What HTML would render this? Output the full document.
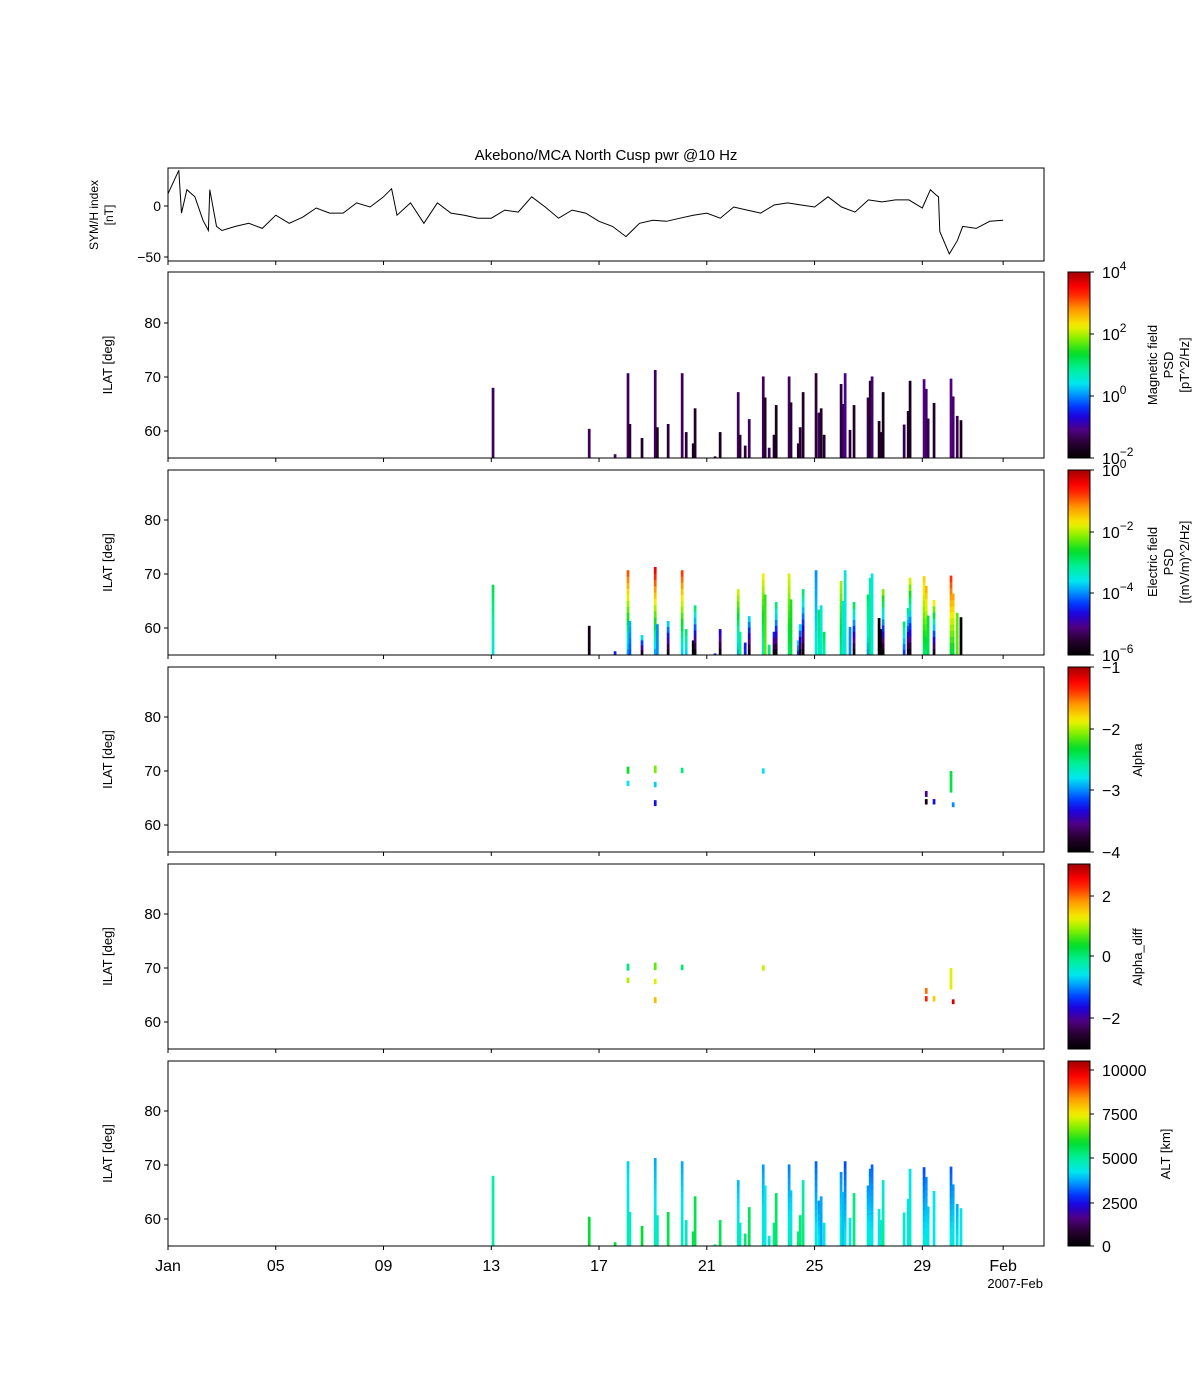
<!DOCTYPE html>
<html><head><meta charset="utf-8"><style>
body{margin:0;background:#fff;}
svg{display:block;font-family:"Liberation Sans","DejaVu Sans",sans-serif;}
</style></head><body>
<svg id="chart" width="1200" height="1400" viewBox="0 0 1200 1400" xmlns="http://www.w3.org/2000/svg">
<rect width="1200" height="1400" fill="#fff"/>
<text x="606" y="160" font-size="15" text-anchor="middle">Akebono/MCA North Cusp pwr @10 Hz</text>
<g id="layer"></g>
</svg>
<script>
// ---- data ----
const xTickLabels = ["Jan","05","09","13","17","21","25","29","Feb"];
const xTickDays = [1,5,9,13,17,21,25,29,32];
const symDays = [1,1.4,1.5,1.7,2,2.3,2.5,2.55,2.8,3,3.5,4,4.5,5,5.5,6,6.5,7,7.5,8,8.5,9,9.3,9.5,10,10.5,11,11.5,12,12.5,13,13.5,14,14.5,15,15.5,16,16.5,17,17.5,18,18.5,19,19.5,20,20.5,21,21.5,22,22.5,23,23.5,24,24.5,25,25.5,26,26.5,27,27.5,28,28.5,29,29.3,29.5,29.6,29.65,30,30.3,30.5,31,31.5,32];
const symVals = [12,35,-7,16,9,-14,-24,16,-20,-24,-20,-17,-22,-9,-17,-11,-2,-7,-7,3,-1,9,17,-9,3,-17,3,-7,-9,-12,-12,-4,-6,9,-1,-12,-4,-7,-15,-20,-30,-17,-14,-15,-12,-9,-7,-12,-1,-4,-7,1,3,1,-1,9,-1,-6,6,4,6,6,-2,16,11,9,-25,-47,-34,-20,-22,-15,-14];
const passDay = [13.06,16.63,17.59,18.07,18.14,18.59,19.08,19.16,19.56,20.08,20.23,20.49,20.56,21.30,21.49,22.16,22.23,22.42,22.57,23.09,23.16,23.31,23.49,23.57,24.05,24.12,24.39,24.46,24.57,25.05,25.16,25.24,25.35,25.98,26.05,26.13,26.31,26.46,26.98,27.06,27.13,27.39,27.47,27.54,28.32,28.47,28.54,29.06,29.14,29.21,29.43,30.06,30.14,30.29,30.43];
const passTop = [68,60.4,55.7,70.7,61.3,58.7,71.3,60.7,61.3,70.7,59.8,57.7,64.2,55.3,59.8,67.2,59.3,57.3,62.2,70.1,66.2,56.9,59.3,64.8,70.1,65.3,57.7,60.7,67.2,70.7,63.4,64.2,59.3,68.7,65.0,70.7,60.2,64.8,66.2,69.3,70.1,61.85,59.8,67.2,61.2,63.7,69.3,69.6,67.8,62.3,65.2,69.7,66.4,62.8,62.0];
const magVal = [-1.3,-1.3,-1.2,-1.3,-1.5,-1.6,-1.3,-1.6,-1.5,-1.3,-1.5,-1.7,-1.6,-1.6,-1.7,-1.3,-1.5,-1.5,-1.3,-1.3,-1.6,-1.3,-1.6,-1.7,-1.3,-1.5,-1.6,-1.5,-1.6,-1.5,-1.3,-1.6,-1.6,-1.5,-1.3,-1.0,-1.5,-1.6,-1.4,-1.6,-1.2,-1.7,-1.6,-1.7,-1.4,-1.6,-1.7,-1.1,-1.2,-1.4,-1.6,-1.1,-1.2,-1.4,-1.7];
const eBot = [-3.5,-5.8,-4.5,-4,-4.3,-6,-4,-4,-6,-3.8,-3.8,-6,-6,-4.5,-6,-4,-3,-4.5,-6,-3.5,-2.3,-3,-6,-6,-3,-2.8,-4.5,-6,-6,-3.5,-3.2,-3.5,-3.2,-3,-3.5,-3.5,-4,-6,-4,-2.8,-3.5,-6,-6,-6,-4.5,-6,-6,-3,-3,-2.8,-6,-2.8,-2.8,-2.3,-6];
const eTop = [-2.8,-5.8,-4.5,-0.8,-3.8,-3.3,-0.3,-4,-3.5,-0.7,-2.9,-6,-2.8,-4.5,-4.5,-1.8,-3.2,-4.5,-3.5,-1.7,-2.5,-3,-4.3,-2.8,-1.8,-2.5,-3.5,-3.4,-2.8,-4,-2.8,-3.5,-2.8,-2,-3.5,-3.5,-4,-2.7,-2.8,-3.3,-3.5,-6,-6,-2,-2.8,-2.8,-1.7,-1.5,-1.3,-2.8,-1.5,-0.7,-1.2,-2.3,-6];
const altBot = [5000,5800,5800,4800,4700,5800,4800,4600,5600,4800,4600,5600,5600,5400,5500,4800,4600,5300,5500,4600,4300,4500,5200,5400,4600,4700,5200,5300,5300,4500,4400,3700,4400,4600,3900,4400,4300,5200,4600,4500,4400,4300,4500,5200,4500,4400,4600,4400,4500,4400,4200,4400,4500,4300,4300];
const altTop = [4900,5800,5800,4000,4700,5800,3700,4600,5600,3700,4600,5600,5600,5400,5500,3800,4600,5300,5500,3600,4300,4500,5200,5400,3400,3900,5200,5300,4800,3200,3500,3700,4400,3500,3900,3000,4300,5200,3500,3300,3200,4300,4500,4400,4500,4400,4200,3000,3400,3900,4200,3100,3500,3700,4300];
const markDay = [18.07,18.07,19.08,19.08,19.08,20.08,23.09,29.14,29.14,29.43,30.06,30.14];
const markLo = [69.5,67.2,69.6,67.0,63.5,69.6,69.5,65.2,63.8,63.8,66.0,63.3];
const markHi = [70.8,68.2,71.0,68.0,64.6,70.6,70.5,66.3,64.8,64.8,70.0,64.2];
const alphaVal = [-2.3,-2.8,-2.1,-2.85,-3.3,-2.5,-2.8,-3.5,-3.9,-3.3,-2.4,-3.0];
const alphaDiff = [0,1,0.7,1.2,1.6,0,1.1,2,2.4,1.5,1.2,2.8];

// ---- layout ----
const X0=168, PXD=26.94, XR=1044;
const xs = d => X0 + (d-1)*PXD;
const NS="http://www.w3.org/2000/svg";
const layer=document.getElementById('layer');
function mk(tag, attrs, parent){const e=document.createElementNS(NS,tag);for(const k in attrs)e.setAttribute(k,attrs[k]);(parent||layer).appendChild(e);return e;}

const stops=[[0,[0,0,0]],[0.08,[40,0,50]],[0.15,[80,0,130]],[0.22,[30,0,220]],[0.28,[0,60,255]],[0.34,[0,150,255]],[0.40,[0,230,240]],[0.48,[0,240,150]],[0.56,[0,220,40]],[0.64,[130,240,0]],[0.71,[245,240,0]],[0.8,[255,150,0]],[0.87,[255,50,0]],[0.92,[255,0,0]],[1,[160,0,0]]];
function cmap(t){t=Math.max(0,Math.min(1,t));for(let i=1;i<stops.length;i++){if(t<=stops[i][0]){const a=stops[i-1],b=stops[i],f=(t-a[0])/(b[0]-a[0]);const c=a[1].map((v,j)=>Math.round(v+(b[1][j]-v)*f));return `rgb(${c[0]},${c[1]},${c[2]})`;}}return 'rgb(160,0,0)';}

const panels=[
 {top:272,bot:458,name:'magnetic-psd'},
 {top:470,bot:655,name:'electric-psd'},
 {top:667,bot:852,name:'alpha'},
 {top:864,bot:1049,name:'alpha-diff'},
 {top:1061,bot:1246,name:'altitude'}];
const ILO=55, IPX=5.4;
const ys=(p,v)=>p.bot-(v-ILO)*IPX;

// ---- SYM/H panel ----
const sTop=168,sBot=261;
const symY=v=>206-v*51/50;
const g1=mk('g',{});


const pts=symDays.map((d,i)=>xs(d).toFixed(1)+','+symY(symVals[i]).toFixed(1)).join(' ');
const pl=mk('polyline',{points:pts,fill:'none',stroke:'#000','stroke-width':1},g1);


const f1=mk('rect',{x:X0,y:sTop,width:XR-X0,height:sBot-sTop,fill:'none',stroke:'#000','stroke-width':1},g1);


[[0,'0'],[-50,'−50']].forEach(([v,l])=>{
 const y=symY(v);mk('line',{x1:X0-4,x2:X0,y1:y,y2:y,stroke:'#000'},g1);
 const t=mk('text',{x:X0-7,y:y+5,'font-size':14,'text-anchor':'end'},g1);t.textContent=l;
 
 
});
xTickDays.forEach(d=>mk('line',{x1:xs(d),x2:xs(d),y1:sBot,y2:sBot+4,stroke:'#000'},g1));
const sl=mk('text',{transform:'translate(98,215) rotate(-90)','font-size':12,'text-anchor':'middle'},g1);


mk('tspan',{x:0,dy:0},sl).textContent='SYM/H index';
mk('tspan',{x:0,dy:15},sl).textContent='[nT]';

// ---- spectrogram panels ----
const W=0.09*PXD;
panels.forEach((p,pi)=>{
 const g=mk('g',{});
 
 
 if(pi<=1||pi==4){
  passDay.forEach((d,i)=>{
   const x=xs(d)-W/2, top=passTop[i];
   if(pi==0){
    const r=mk('rect',{x:x,y:ys(p,top),width:W+0.3,height:(top-ILO)*IPX,fill:cmap((magVal[i]+2)/6)},g);
    
    
   } else {
    const n=Math.max(1,Math.ceil((top-ILO)/1.2));
    for(let k=0;k<n;k++){
     const lo=ILO+(top-ILO)*k/n, hi=ILO+(top-ILO)*(k+1)/n, f=(k+0.5)/n;
     let t;
     if(pi==1){t=(eBot[i]+(eTop[i]-eBot[i])*f+6)/6;}
     else {t=(altBot[i]+(altTop[i]-altBot[i])*f)/10500;}
     const r=mk('rect',{x:x,y:ys(p,hi),width:W+0.3,height:(hi-lo)*IPX+0.4,fill:cmap(t)},g);
     
     
    }
   }
  });
 } else {
  markDay.forEach((d,i)=>{
   const t=pi==2?(alphaVal[i]+4)/3:(alphaDiff[i]+3.1)/6.17;
   const r=mk('rect',{x:xs(d)-W/2,y:ys(p,markHi[i]),width:W+0.3,height:(markHi[i]-markLo[i])*IPX,fill:cmap(t)},g);
   
   
  });
 }
 const fr=mk('rect',{x:X0,y:p.top,width:XR-X0,height:p.bot-p.top,fill:'none',stroke:'#000','stroke-width':1},g);
 
 
 [60,70,80].forEach(v=>{
  const y=ys(p,v);mk('line',{x1:X0-4,x2:X0,y1:y,y2:y,stroke:'#000'},g);
  const t=mk('text',{x:X0-7,y:y+5,'font-size':15,'text-anchor':'end'},g);t.textContent=v;
  
  
 });
 xTickDays.forEach(d=>mk('line',{x1:xs(d),x2:xs(d),y1:p.bot,y2:p.bot+4,stroke:'#000'},g));
 const yl=mk('text',{transform:`translate(112,${(p.top+p.bot)/2}) rotate(-90)`,'font-size':13,'text-anchor':'middle'},g);
 yl.textContent='ILAT [deg]';
 
 
 const gid='grad'+pi;
 const defs=mk('defs',{},g);
 const lg=mk('linearGradient',{id:gid,x1:0,y1:1,x2:0,y2:0},defs);
 for(let s=0;s<=40;s++){mk('stop',{offset:s/40,'stop-color':cmap(s/40)},lg);}
 const cb=mk('rect',{x:1068,y:p.top,width:22,height:p.bot-p.top,fill:`url(#${gid})`,stroke:'#000','stroke-width':1},g);
 
 
});

function cbTick(y,main,sup){
 mk('line',{x1:1090,x2:1094,y1:y,y2:y,stroke:'#000'});
 const t=mk('text',{x:1102,y:y+6,'font-size':16});
 
 
 mk('tspan',{},t).textContent=main;
 if(sup!==undefined){const s=mk('tspan',{dy:-8,'font-size':12},t);s.textContent=sup;}
}
[[272,'4'],[334,'2'],[396,'0'],[458,'−2']].forEach(([y,s])=>cbTick(y,'10',s));
[[470,'0'],[532,'−2'],[593,'−4'],[655,'−6']].forEach(([y,s])=>cbTick(y,'10',s));
[[667,'−1'],[729,'−2'],[790,'−3'],[852,'−4']].forEach(([y,s])=>cbTick(y,s));
[[896,'2'],[956,'0'],[1018,'−2']].forEach(([y,s])=>cbTick(y,s));
[[1070,'10000'],[1114,'7500'],[1158,'5000'],[1203,'2500'],[1246,'0']].forEach(([y,s])=>cbTick(y,s));

function cbLabel(x,y,lines,name){
 const t=mk('text',{transform:`translate(${x},${y}) rotate(-90)`,'font-size':13,'text-anchor':'middle'});
 
 
 lines.forEach((l,i)=>{mk('tspan',{x:0,dy:i?16:0},t).textContent=l;});
}
cbLabel(1157,365,['Magnetic field','PSD','[pT^2/Hz]'],'mag-colorbar-title');
cbLabel(1157,562,['Electric field','PSD','[(mV/m)^2/Hz]'],'efield-colorbar-title');
cbLabel(1142,760,['Alpha'],'alpha-colorbar-title');
cbLabel(1142,957,['Alpha_diff'],'alpha-diff-colorbar-title');
cbLabel(1170,1154,['ALT [km]'],'alt-colorbar-title');

xTickDays.forEach((d,i)=>{
 const t=mk('text',{x:xs(d),y:1271,'font-size':16,'text-anchor':'middle'});
 t.textContent=xTickLabels[i];
 
 
});
const yr=mk('text',{x:1043,y:1288,'font-size':13,'text-anchor':'end'});
yr.textContent='2007-Feb';


</script>
</body></html>
